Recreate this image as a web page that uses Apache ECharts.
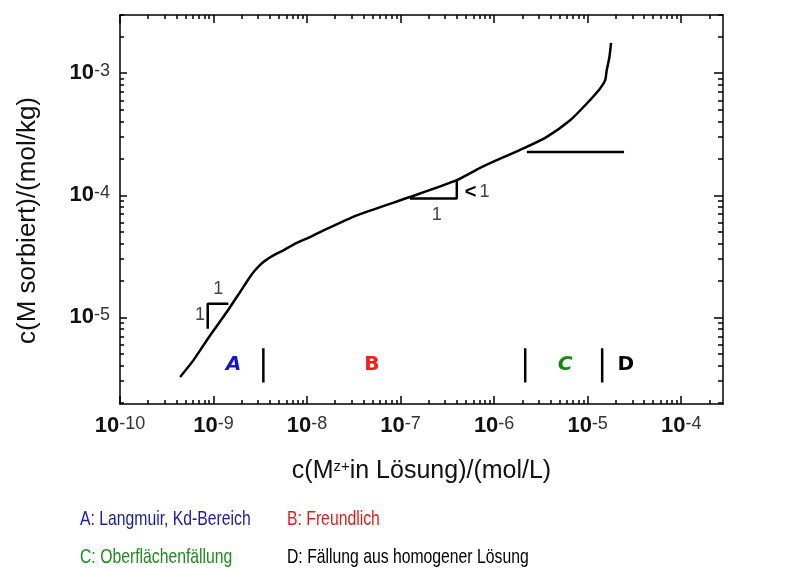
<!DOCTYPE html>
<html>
<head>
<meta charset="utf-8">
<script src="https://cdn.jsdelivr.net/npm/echarts@6/dist/echarts.min.js"></script>
<style>
  html, body { margin: 0; padding: 0; background: #fff; }
  #chart { width: 787px; height: 569px; }
</style>
</head>
<body>
<div id="chart"></div>
<script>
// isotherm curve, c(M in solution) vs c(M sorbed)
const curveX = [4.39e-10, 6.08e-10, 9.18e-10, 1.38e-9, 1.92e-9, 2.45e-9, 2.78e-9, 3.41e-9, 4.37e-9, 5.58e-9,
  7.76e-9, 1.08e-8, 1.38e-8, 3.40e-8, 1.26e-7, 3.99e-7, 7.08e-7, 1.16e-6, 2.06e-6, 3.66e-6,
  6.50e-6, 9.80e-6, 1.36e-5, 1.54e-5, 1.60e-5, 1.71e-5, 1.78e-5];
const curveY = [3.24e-6, 4.44e-6, 7.11e-6, 1.10e-5, 1.61e-5, 2.14e-5, 2.43e-5, 2.84e-5, 3.22e-5, 3.54e-5,
  4.08e-5, 4.55e-5, 5.00e-5, 6.85e-5, 9.68e-5, 1.33e-4, 1.68e-4, 2.00e-4, 2.42e-4, 3.01e-4,
  4.12e-4, 5.65e-4, 7.50e-4, 8.77e-4, 1.06e-3, 1.36e-3, 1.77e-3];

// horizontal line (saturation level)
const plateauX = [2.24e-6, 2.45e-5];
const plateauY = [2.26e-4, 2.26e-4];

// slope triangles
const slope1X = [8.67e-10, 8.67e-10, 1.44e-9];
const slope1Y = [8.07e-6, 1.29e-5, 1.29e-5];
const slope2X = [1.26e-7, 3.99e-7, 3.99e-7];
const slope2Y = [9.40e-5, 9.40e-5, 1.33e-4];
const slopeLabels = ['1', '1', '1', '{lt|<}1'];
const slopeLabelX = [7.18e-10, 1.12e-9, 2.44e-7, 6.58e-7];
const slopeLabelY = [1.04e-5, 1.72e-5, 6.85e-5, 1.06e-4];

// region dividers and names
const dividerX = [3.41e-9, 2.15e-6, 1.43e-5];
const dividerY = [2.93e-6, 5.57e-6];
const regionNames = ['A', 'B', 'C', 'D'];
const regionX = [1.63e-9, 4.92e-8, 5.74e-6, 2.56e-5];
const regionY = 4.05e-6;
const regionColors = ['#1414c8', '#ff1a1a', '#128a12', '#000000'];
const regionItalic = [true, false, true, false];

// axes
const xMin = 1e-10, xMax = 2.8e-4;
const yMin = 1.95e-6, yMax = 3e-3;
const xDecades = [1e-10, 1e-9, 1e-8, 1e-7, 1e-6, 1e-5, 1e-4];
const yDecades = [1e-6, 1e-5, 1e-4, 1e-3];
const minorSteps = [2, 3, 4, 5, 6, 7, 8, 9];

// legend lines below the chart
const legendTexts = ['A: Langmuir, Kd-Bereich', 'B: Freundlich', 'C: Oberflächenfällung', 'D: Fällung aus homogener Lösung'];
const legendColors = ['#1c1ca0', '#e01e1e', '#1f8a1f', '#000000'];

const lg = Math.log10;
const pts = (xs, ys) => xs.map((x, i) => [lg(x), lg(ys[i])]);

function minors(decades, lo, hi) {
  let out = [];
  decades.forEach(d => minorSteps.forEach(k => {
    const v = lg(d * k);
    if (v >= lg(lo) && v <= lg(hi)) out.push(v);
  }));
  return out;
}

const xMajorVals = xDecades.map(lg);
const yMajorVals = yDecades.map(lg).filter(v => v >= lg(yMin));
const xMinorVals = minors(xDecades, xMin, xMax);
const yMinorVals = minors(yDecades, yMin, yMax);

const tickLabel = {
  formatter: v => '{b|10}{s|' + Math.round(v) + '}',
  rich: {
    b: { fontSize: 22, fontWeight: 'bold', color: '#111', fontFamily: 'Liberation Sans' },
    s: { fontSize: 18, color: '#333', fontFamily: 'Liberation Sans', verticalAlign: 'top' }
  }
};

function axis(kind, pos, vals, len, withLabels, withLine) {
  const isX = kind === 'x';
  return {
    type: 'value',
    position: pos,
    min: isX ? lg(xMin) : lg(yMin),
    max: isX ? lg(xMax) : lg(yMax),
    splitLine: { show: false },
    axisLine: { show: withLine, onZero: false, lineStyle: { color: '#000', width: 1.5 } },
    axisTick: { show: true, inside: true, length: len, customValues: vals, lineStyle: { color: '#000', width: 1.5 } },
    axisLabel: withLabels
      ? Object.assign({ show: true, customValues: vals, margin: isX ? 11 : 10 }, tickLabel)
      : { show: false }
  };
}

function segment(data, smooth) {
  return {
    type: 'line', data, symbol: 'none', silent: true, animation: false,
    smooth: smooth || false,
    lineStyle: { color: '#000', width: 2.5 }
  };
}

const series = [
  segment(pts(curveX, curveY), 0.2),
  segment(pts(plateauX, plateauY)),
  segment(pts(slope1X, slope1Y)),
  segment(pts(slope2X, slope2Y))
];
dividerX.forEach(x => series.push(segment(pts([x, x], dividerY))));

series.push({
  type: 'scatter', symbolSize: 0, silent: true, animation: false,
  itemStyle: { opacity: 1 },
  data: slopeLabelX.map((x, i) => ({ value: [lg(x), lg(slopeLabelY[i])], name: slopeLabels[i] })),
  label: {
    show: true, position: 'inside', formatter: p => p.name,
    fontSize: 18, color: '#444', fontFamily: 'Liberation Sans',
    rich: { lt: { fontSize: 20, fontWeight: 'bold', color: '#000', padding: [0, 3, 0, 0] } }
  }
});

series.push({
  type: 'scatter', symbolSize: 0, silent: true, animation: false,
  itemStyle: { opacity: 1 },
  data: regionX.map((x, i) => ({
    value: [lg(x), lg(regionY)], name: regionNames[i],
    label: { color: regionColors[i], fontStyle: regionItalic[i] ? 'italic' : 'normal' }
  })),
  label: {
    show: true, position: 'inside', formatter: p => p.name,
    fontSize: 20, fontWeight: 'bold', fontFamily: 'DejaVu Sans'
  }
});

const chart = echarts.init(document.getElementById('chart'), null, { renderer: 'canvas' });
chart.setOption({
  animation: false,
  backgroundColor: '#fff',
  grid: { left: 120, right: 64, top: 15, bottom: 165, containLabel: false },
  xAxis: [
    Object.assign(axis('x', 'bottom', xMajorVals, 8, true, true), {
      name: '{n|c(M}{sup|z+}{n|in Lösung)/(mol/L)}',
      nameLocation: 'middle', nameGap: 55,
      nameTextStyle: {
        rich: {
          n: { fontSize: 25, color: '#111', fontFamily: 'Liberation Sans' },
          sup: { fontSize: 15, color: '#111', fontFamily: 'Liberation Sans', verticalAlign: 'top' }
        }
      }
    }),
    axis('x', 'bottom', xMinorVals, 4, false, false),
    axis('x', 'top', xMajorVals, 8, false, true),
    axis('x', 'top', xMinorVals, 4, false, false)
  ],
  yAxis: [
    Object.assign(axis('y', 'left', yMajorVals, 7, true, true), {
      name: 'c(M sorbiert)/(mol/kg)',
      nameLocation: 'middle', nameGap: 79, nameRotate: 90,
      nameTextStyle: { fontSize: 26, color: '#111', fontFamily: 'Liberation Sans', padding: [0, 22, 0, 0] }
    }),
    axis('y', 'left', yMinorVals, 4, false, false),
    axis('y', 'right', yMajorVals, 9, false, true),
    axis('y', 'right', yMinorVals, 5, false, false)
  ],
  series,
  graphic: legendTexts.map((t, i) => ({
    type: 'text',
    x: i % 2 === 0 ? 80 : 287,
    y: i < 2 ? 519 : 557,
    scaleX: 0.75,
    style: {
      text: t, x: 0, y: 0, fill: legendColors[i], fontSize: 21,
      fontFamily: 'Liberation Sans', verticalAlign: 'middle', align: 'left'
    }
  }))
});
</script>
</body>
</html>
